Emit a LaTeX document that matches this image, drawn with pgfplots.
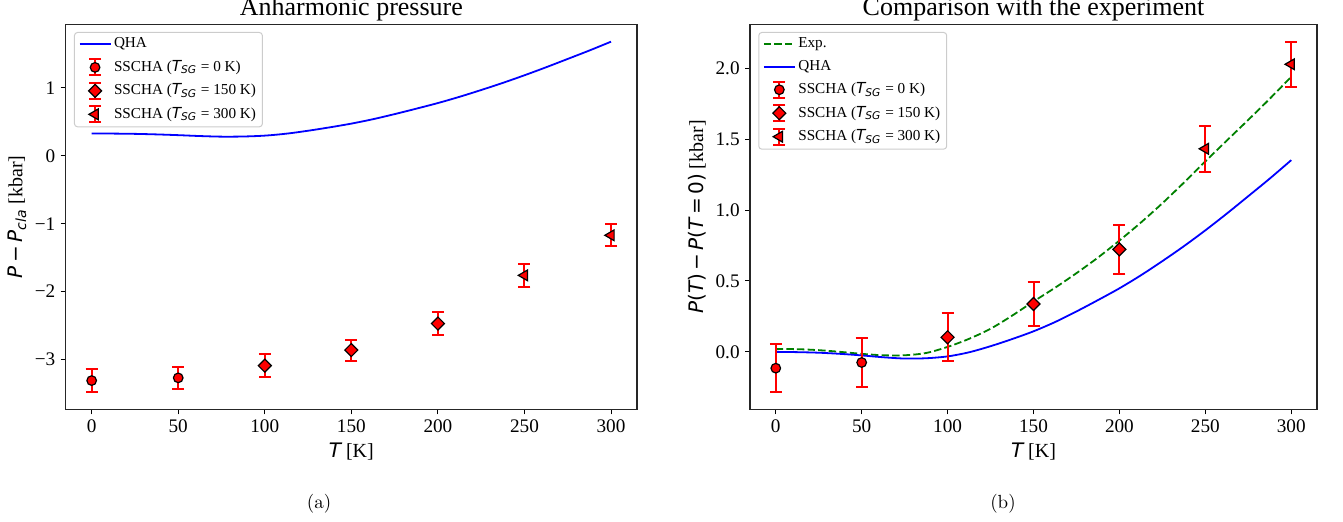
\documentclass[border=0pt]{standalone}
\usepackage{fontspec}
\usepackage{pgfplots}
\pgfplotsset{compat=1.18}
\newfontfamily\tnr{Liberation Serif}
\newfontfamily\dvs{DejaVu Sans}
\newcommand{\mi}[1]{{\dvs\itshape #1}}
\newcommand{\mr}[1]{{\dvs #1}}
\newcommand{\TSG}{\mi{T}\textsubscript{\mi{SG}}}
\definecolor{mplgreen}{RGB}{0,128,0}

\pgfplotsset{
  panel/.style={
    scale only axis, anchor=south west,
    height=192.5pt,
    xmin=-15, xmax=315, xtick={0,50,...,300},
    tick align=outside, xtick pos=bottom, ytick pos=left,
    major tick length=2.5pt,
    every tick/.style={black, line width=0.5pt},
    axis line style={black!85, line width=0.6pt},
    /pgf/number format/assume math mode=true,
    ticklabel style={font=\fontsize{9.6}{11}\selectfont\tnr},
    xticklabel style={anchor=base, inner sep=0pt, yshift=-9.35pt},
    yticklabel style={anchor=east, inner sep=0pt, xshift=-2.5pt},
    xlabel style={at={(axis description cs:0.5,0)}, anchor=base, yshift=-24.2pt,
      font=\fontsize{10}{12}\selectfont\tnr},
    ylabel style={anchor=center, font=\fontsize{10}{12}\selectfont\tnr},
    title style={at={(axis description cs:0.5,1)}, anchor=base, yshift=-1.85pt,
      font=\fontsize{13}{15}\selectfont\tnr},
    legend cell align=left,
    legend style={at={(axis description cs:0,1)}, anchor=north west,
      xshift=4.15pt, yshift=-3.85pt, draw=black!20, line width=0.5pt,
      rounded corners=1.5pt, fill=white,
      font=\fontsize{7.6}{9}\selectfont\tnr,
      inner xsep=2pt, inner ysep=1.5pt, row sep=2.3pt,
      nodes={inner sep=1.2pt}},
    xlabel={\mi{T} [K]},
  },
  errleg/.style={legend image code/.code={
    \draw[sharp corners, red, line width=1pt] (7.75pt,-4pt) -- (7.75pt,4pt)
      (4.75pt,-4pt) -- (10.75pt,-4pt) (4.75pt,4pt) -- (10.75pt,4pt);
    \draw[sharp corners, ##1, only marks] plot coordinates {(7.75pt,0pt)};}},
  errs/.style={only marks, draw=black, fill=red, errleg,
    /pgfplots/error bars/y dir=both, /pgfplots/error bars/y explicit,
    /pgfplots/error bars/error bar style={red, line width=1pt},
    /pgfplots/error bars/error mark options={rotate=90, red, mark size=3pt, line width=1pt}},
  qha/.style={blue, line width=0.9pt, smooth,
    legend image code/.code={
      \draw[sharp corners, blue, line width=1.05pt] (0pt,0pt) -- (15.5pt,0pt);}},
  expl/.style={mplgreen, line width=0.9pt,
    dash pattern=on 3.7pt off 1.6pt, smooth,
    legend image code/.code={
      \draw[sharp corners, mplgreen, line width=1.05pt, dash pattern=on 3.7pt off 1.6pt]
        (0pt,0pt) -- (15.5pt,0pt);}},
  mcirc/.style={mark=*, mark size=2.4pt, mark options={line width=0.6pt}},
  mdiam/.style={mark=square*, mark size=2.3pt, mark options={rotate=45, line width=0.6pt}},
  mtri/.style={mark=triangle*, mark size=3.1pt, mark options={rotate=90, line width=0.6pt}},
}

\begin{document}
\begin{tikzpicture}
\useasboundingbox (0,0) rectangle (671.5pt,-261pt);

% (a) anharmonic pressure
\begin{axis}[panel, at={(32.85pt,-204.65pt)}, width=285.65pt,
  ymin=-3.733, ymax=1.938,
  ytick={-3,-2,-1,0,1}, yticklabels={−3,−2,−1,0,1},
  ylabel={\mi{P}\,\mr{−}\,\mi{P}\textsubscript{\mi{cla}} [kbar]},
  ylabel style={at={(axis description cs:-0.0852,0.5)}},
  title={Anharmonic pressure}]
\addplot[qha] coordinates {
 (0,0.330) (12.5,0.328) (25,0.324) (37.5,0.316) (50,0.305) (62.5,0.292)
 (75,0.283) (87.5,0.285) (100,0.298) (112.5,0.327) (125,0.370) (137.5,0.420)
 (150,0.475) (162.5,0.540) (175,0.615) (187.5,0.695) (200,0.778) (212.5,0.870)
 (225,0.970) (237.5,1.075) (250,1.187) (262.5,1.305) (275,1.428) (287.5,1.552)
 (300,1.682)};
\addlegendentry{QHA}
\addplot[mcirc, errs] coordinates {(0,-3.31) +- (0,0.165) (50,-3.27) +- (0,0.167)};
\addlegendentry{SSCHA (\TSG{} = 0 K)}
\addplot[mdiam, errs] coordinates {(100,-3.09) +- (0,0.17) (150,-2.86) +- (0,0.155) (200,-2.47) +- (0,0.17)};
\addlegendentry{SSCHA (\TSG{} = 150 K)}
\addplot[mtri, errs] coordinates {(250,-1.76) +- (0,0.165) (300,-1.17) +- (0,0.16)};
\addlegendentry{SSCHA (\TSG{} = 300 K)}
\end{axis}

% (b) comparison with experiment
\begin{axis}[panel, at={(375pt,-204.65pt)}, width=283.5pt,
  ymin=-0.405, ymax=2.31,
  ytick={0,0.5,1,1.5,2}, yticklabels={0.0,0.5,1.0,1.5,2.0},
  ylabel={\mi{P}\mr{(}\mi{T}\mr{)}\,\mr{−}\,\mi{P}\mr{(}\mi{T}\,\mr{=}\,\mr{0)} [kbar]},
  ylabel style={at={(axis description cs:-0.0935,0.5)}},
  title={Comparison with the experiment}]
\addplot[expl] coordinates {
 (0,0.020) (12.5,0.019) (25,0.012) (37.5,0.000) (50,-0.014) (62.5,-0.024)
 (75,-0.024) (87.5,-0.008) (100,0.035) (112.5,0.092) (125,0.163) (137.5,0.255)
 (150,0.355) (162.5,0.452) (175,0.555) (187.5,0.665) (200,0.785) (212.5,0.912)
 (225,1.048) (237.5,1.193) (250,1.343) (262.5,1.490) (275,1.636) (287.5,1.785)
 (300,1.940)};
\addlegendentry{Exp.}
\addplot[qha] coordinates {
 (0,0.000) (12.5,-0.002) (25,-0.006) (37.5,-0.014) (50,-0.025) (62.5,-0.038)
 (75,-0.047) (87.5,-0.045) (100,-0.032) (112.5,-0.003) (125,0.040) (137.5,0.090)
 (150,0.145) (162.5,0.210) (175,0.285) (187.5,0.365) (200,0.448) (212.5,0.540)
 (225,0.640) (237.5,0.745) (250,0.857) (262.5,0.975) (275,1.098) (287.5,1.222)
 (300,1.352)};
\addlegendentry{QHA}
\addplot[mcirc, errs] coordinates {(0,-0.115) +- (0,0.167) (50,-0.075) +- (0,0.17)};
\addlegendentry{SSCHA (\TSG{} = 0 K)}
\addplot[mdiam, errs] coordinates {(100,0.103) +- (0,0.168) (150,0.338) +- (0,0.157) (200,0.723) +- (0,0.171)};
\addlegendentry{SSCHA (\TSG{} = 150 K)}
\addplot[mtri, errs] coordinates {(250,1.432) +- (0,0.162) (300,2.028) +- (0,0.158)};
\addlegendentry{SSCHA (\TSG{} = 300 K)}
\end{axis}

\node[font=\fontsize{9.5}{11}\selectfont] at (159.5pt,-252pt) {(a)};
\node[font=\fontsize{9.5}{11}\selectfont] at (501.5pt,-252pt) {(b)};
\end{tikzpicture}
\end{document}
